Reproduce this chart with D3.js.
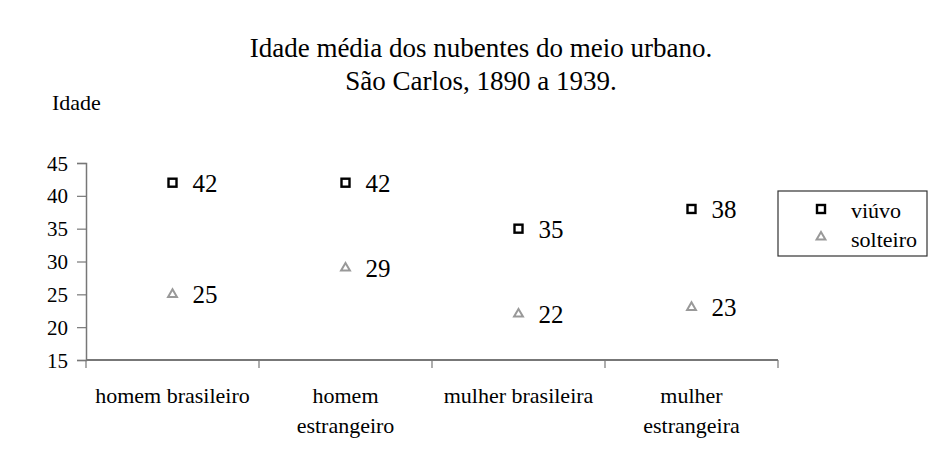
<!DOCTYPE html>
<html>
<head>
<meta charset="utf-8">
<script src="https://cdn.jsdelivr.net/npm/d3@7"></script>
<style>
  body { margin: 0; background: #fff; }
  svg text { font-family: "Liberation Serif", "Times New Roman", serif; fill: #000; }
</style>
</head>
<body>
<svg id="grafico" width="940" height="455"></svg>
<script>
const categorias = [["homem brasileiro"], ["homem", "estrangeiro"], ["mulher brasileira"], ["mulher", "estrangeira"]];
const viuvo = [42, 42, 35, 38];
const solteiro = [25, 29, 22, 23];
const yTicks = [15, 20, 25, 30, 35, 40, 45];

const svg = d3.select("#grafico");
const x0 = 86, x1 = 778, yTop = 163, yBot = 360;

const x = d3.scaleBand().domain(d3.range(categorias.length)).range([x0, x1]);
const y = d3.scaleLinear().domain([15, 45]).range([yBot, yTop]);

// Titulo
svg.append("text").attr("x", 481).attr("y", 57).attr("text-anchor", "middle")
    .style("font-size", "27px").text("Idade média dos nubentes do meio urbano.");
svg.append("text").attr("x", 481).attr("y", 90).attr("text-anchor", "middle")
    .style("font-size", "27px").text("São Carlos, 1890 a 1939.");
svg.append("text").attr("x", 52).attr("y", 110).style("font-size", "22px").text("Idade");

// Eixo Y
const eixoY = svg.append("g").attr("transform", `translate(${x0},0)`)
    .call(d3.axisLeft(y).tickValues(yTicks).tickSize(9).tickPadding(9));
eixoY.select(".domain").attr("stroke", "#777").attr("stroke-width", 1.5);
eixoY.selectAll(".tick line").attr("stroke", "#777").attr("stroke-width", 1.2);
eixoY.selectAll(".tick text").style("font-size", "21px")
    .style("font-family", "Liberation Serif, serif").attr("dy", "0.34em");

// Eixo X
const eixoX = svg.append("g").attr("transform", `translate(0,${yBot})`);
eixoX.append("line").attr("x1", x0).attr("x2", x1).attr("stroke", "#777").attr("stroke-width", 2);
eixoX.selectAll("line.marca")
    .data(d3.range(categorias.length + 1))
    .join("line").attr("class", "marca")
    .attr("x1", i => x0 + i * x.step()).attr("x2", i => x0 + i * x.step())
    .attr("y1", 0).attr("y2", 8).attr("stroke", "#777").attr("stroke-width", 1.2);
eixoX.selectAll("text.cat")
    .data(categorias)
    .join("text").attr("class", "cat")
    .attr("text-anchor", "middle")
    .attr("transform", (d, i) => `translate(${x(i) + x.bandwidth() / 2},0)`)
    .style("font-size", "22px")
    .selectAll("tspan").data(d => d).join("tspan")
    .attr("x", 0).attr("y", (d, j) => 43 + j * 30).text(d => d);

const cx = i => x(i) + x.bandwidth() / 2;
const tri = d3.symbol().type(d3.symbolTriangle).size(34);

// viúvo
svg.selectAll("rect.viuvo").data(viuvo).join("rect").attr("class", "viuvo")
    .attr("x", (d, i) => cx(i) - 4).attr("y", d => y(d) - 4)
    .attr("width", 8).attr("height", 8)
    .attr("fill", "#fff").attr("stroke", "#000").attr("stroke-width", 2.4);
svg.selectAll("text.lv").data(viuvo).join("text").attr("class", "lv")
    .attr("x", (d, i) => cx(i) + 20).attr("y", d => y(d) + 9)
    .style("font-size", "25px").text(d => d);

// solteiro
svg.selectAll("path.solt").data(solteiro).join("path").attr("class", "solt")
    .attr("d", tri).attr("transform", (d, i) => `translate(${cx(i)},${y(d)})`)
    .attr("fill", "#fff").attr("stroke", "#999").attr("stroke-width", 2);
svg.selectAll("text.ls").data(solteiro).join("text").attr("class", "ls")
    .attr("x", (d, i) => cx(i) + 20).attr("y", d => y(d) + 9)
    .style("font-size", "25px").text(d => d);

// Legenda
const leg = svg.append("g").attr("transform", "translate(778,191)");
leg.append("rect").attr("width", 149).attr("height", 65)
    .attr("fill", "#fff").attr("stroke", "#333").attr("stroke-width", 1.2);
leg.append("rect").attr("x", 39).attr("y", 14).attr("width", 8).attr("height", 8)
    .attr("fill", "#fff").attr("stroke", "#000").attr("stroke-width", 2.4);
leg.append("text").attr("x", 73).attr("y", 27).style("font-size", "22px").text("viúvo");
leg.append("path").attr("d", tri).attr("transform", "translate(43,46)")
    .attr("fill", "#fff").attr("stroke", "#999").attr("stroke-width", 2);
leg.append("text").attr("x", 73).attr("y", 56).style("font-size", "22px").text("solteiro");
</script>
</body>
</html>
